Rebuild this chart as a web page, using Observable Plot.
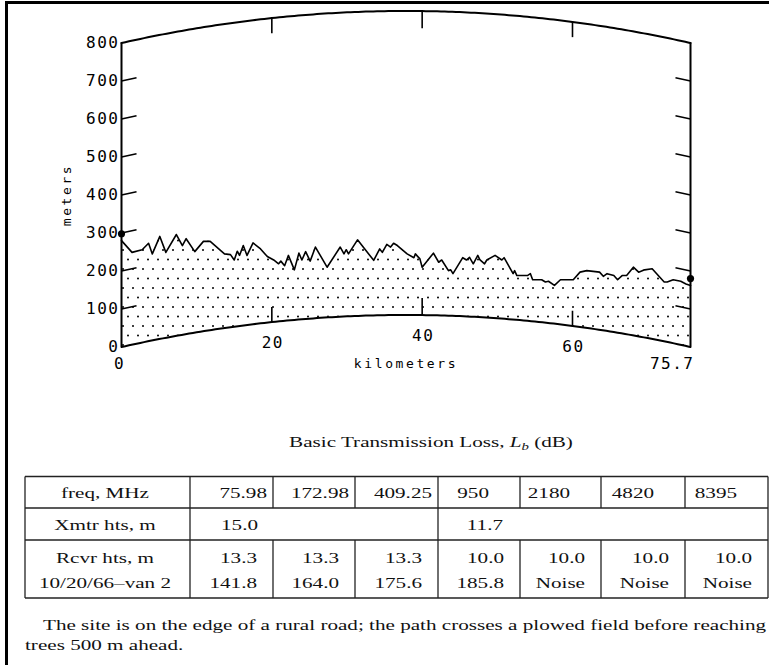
<!DOCTYPE html>
<html><head><meta charset="utf-8">
<script src="https://cdn.jsdelivr.net/npm/d3@7"></script>
<script src="https://cdn.jsdelivr.net/npm/@observablehq/plot@0.6"></script>
<style>
html,body{margin:0;padding:0;background:#fff;}
#page{position:relative;width:769px;height:665px;overflow:hidden;background:#fff;}
#chart{position:absolute;left:0;top:0;}
#lower{position:absolute;left:0;top:400px;}
.frameTop{position:absolute;left:5px;top:1px;width:764px;height:3px;background:#000;}
.frameLeft{position:absolute;left:5px;top:1px;width:3px;height:664px;background:#000;}
</style></head>
<body>
<div id="page">
  <div id="chart"></div>
  <svg id="lower" width="769" height="265"></svg>
  <div class="frameTop"></div><div class="frameLeft"></div>
</div>
<script>
// ---- terrain profile (heights as drawn on the curved-earth frame, m) ----
const distanceKm = [0, 1.4, 2.75, 3.6, 4.1, 5.1, 5.9, 7.3, 8.1, 8.6, 9.75, 10.9, 11.8, 13.7, 14.5, 15.0, 15.4, 15.7, 16.2, 16.7,
  17.5, 18.5, 19.4, 20.25, 20.9, 21.2, 21.7, 22.2, 23.0, 23.6, 24.0, 24.5, 25.1, 25.8, 27.35, 29.1, 29.6, 29.9, 30.2, 31.4,
  33.55, 34.35, 34.7, 35.3, 35.8, 36.2, 36.7, 38.0, 38.9, 39.1, 39.7, 40.0, 41.5, 42.2, 42.6, 43.5, 43.8, 44.1, 45.4, 45.9,
  46.3, 46.8, 47.4, 47.7, 48.3, 48.6, 49.7, 50.6, 50.9, 52.1, 52.3, 52.6, 54.0, 54.4, 54.7, 55.9, 56.4, 56.8, 57.6, 58.4,
  60.1, 61.0, 61.9, 63.6, 64.1, 64.6, 65.5, 66.0, 66.6, 67.2, 68.1, 68.8, 69.6, 70.6, 71.5, 72.2, 72.6, 73.4, 74.4, 75.1, 75.7];
const profileM = [280, 249, 256, 273, 245, 291, 249, 296, 267, 285, 251, 278, 278, 245, 243, 229, 252, 241, 267, 241,
  274, 258, 238, 229, 219, 226, 214, 241, 203, 247, 229, 251, 226, 263, 210, 263, 245, 256, 245, 282,
  228, 258, 249, 270, 263, 273, 267, 245, 235, 245, 232, 210, 247, 223, 229, 201, 203, 193, 235, 229,
  236, 219, 241, 229, 219, 229, 241, 229, 235, 193, 201, 188, 188, 193, 177, 177, 171, 173, 162, 177,
  177, 197, 201, 197, 186, 193, 188, 177, 188, 188, 210, 197, 203, 206, 186, 171, 171, 177, 173, 166, 162];
const terminalKm = [0, 75.7];
const terminalM = [298, 180];
const pathLengthKm = 75.7;
const yTickValues = [0, 100, 200, 300, 400, 500, 600, 700, 800];
const xTickValues = [20, 40, 60];
const xStartLabel = "0";
const xEndLabel = "75.7";

// ---- table ----
const rowLabels = ["freq, MHz", "Xmtr hts, m", "Rcvr hts, m", "10/20/66\u2013van 2"];
const freqMHz = ["75.98", "172.98", "409.25", "950", "2180", "4820", "8395"];
const xmtrHeights = ["15.0", "11.7"];
const rcvrHeights = ["13.3", "13.3", "13.3", "10.0", "10.0", "10.0", "10.0"];
const lossDb = ["141.8", "164.0", "175.6", "185.8", "Noise", "Noise", "Noise"];
const tableTitle = "Basic Transmission Loss, ";
const captionLines = ["The site is on the edge of a rural road; the path crosses a plowed field before reaching",
  "trees 500 m ahead."];

// curved (4/3 earth, a_e = 8500 km) frame: bulge in metres
const D = pathLengthKm;
const bulge = d => d * (D - d) / 17;

const profile = distanceKm.map((d, i) => ({d, h: profileM[i], base: bulge(d)}));
const arcPts = d3.range(0, D, 0.5).concat([D]).map(d => ({d, lo: bulge(d), hi: 800 + bulge(d)}));
const terminals = terminalKm.map((d, i) => ({d, h: terminalM[i]}));
const innerTicks = yTickValues.filter(v => v > 0 && v < 800);
const tickLen = {20: 40, 40: 45, 60: 40};

const mono = "'DejaVu Sans Mono', monospace";
const chart = Plot.plot({
  width: 769, height: 400,
  marginLeft: 121, marginRight: 79, marginTop: 42.5, marginBottom: 53.5,
  x: {domain: [0, D], axis: null},
  y: {domain: [0, 800], axis: null},
  style: {fontFamily: mono, background: "transparent", color: "#000"},
  marks: [
    Plot.areaY(profile, {x: "d", y1: "base", y2: "h", fill: "url(#stipple)"}),
    Plot.line(arcPts, {x: "d", y: "lo", stroke: "#000", strokeWidth: 2}),
    Plot.line(arcPts, {x: "d", y: "hi", stroke: "#000", strokeWidth: 2}),
    Plot.ruleX([0, D], {x: d => d, y1: () => 0, y2: () => 800, stroke: "#000", strokeWidth: 2}),
    Plot.link(innerTicks, {x1: () => 0, y1: v => v, x2: () => 2, y2: v => v + bulge(2), stroke: "#000", strokeWidth: 1.6}),
    Plot.link(innerTicks, {x1: () => D, y1: v => v, x2: () => D - 2, y2: v => v + bulge(D - 2), stroke: "#000", strokeWidth: 1.6}),
    Plot.link(xTickValues, {x1: v => v, x2: v => v, y1: v => bulge(v), y2: v => bulge(v) + tickLen[v], stroke: "#000", strokeWidth: 1.6}),
    Plot.link(xTickValues, {x1: v => v, x2: v => v, y1: v => 800 + bulge(v), y2: v => 800 + bulge(v) - tickLen[v], stroke: "#000", strokeWidth: 1.6}),
    Plot.line(profile, {x: "d", y: "h", stroke: "#000", strokeWidth: 1.6}),
    Plot.dot(terminals, {x: "d", y: "h", r: 3.6, fill: "#000"}),
    Plot.text(yTickValues, {x: () => 0, y: v => v, text: v => String(v), textAnchor: "end", dx: -2, fontSize: 16}),
    Plot.text(xTickValues, {x: v => v, y: v => bulge(v), text: v => String(v), dy: 21, dx: 1, fontSize: 16}),
    Plot.text([xStartLabel], {x: () => 0, y: () => 0, text: t => t, dy: 17, dx: -2, fontSize: 16}),
    Plot.text([xEndLabel], {x: () => D, y: () => 0, text: t => t, dy: 17, dx: 4, textAnchor: "end", fontSize: 16}),
    Plot.text(["meters"], {frameAnchor: "left", y: () => 400, dx: -55, rotate: -90, textAnchor: "middle", text: t => t, fontSize: 13}),
    Plot.text(["kilometers"], {x: () => D / 2, y: () => 0, dy: 17, text: t => t, fontSize: 13})
  ]
});
document.getElementById("chart").appendChild(chart);
const cs = d3.select(chart);
cs.selectAll("text").each(function() {
  const s = this.textContent;
  d3.select(this).style("letter-spacing", (s === "meters" || s === "kilometers") ? "2.6px" : "1.5px");
});
// stipple pattern
const defs = cs.insert("defs", ":first-child");
const pat = defs.append("pattern").attr("id", "stipple").attr("patternUnits", "userSpaceOnUse")
  .attr("width", 10).attr("height", 19);
pat.append("circle").attr("cx", 3).attr("cy", 3).attr("r", 1).attr("fill", "#000");
pat.append("circle").attr("cx", 8).attr("cy", 12.5).attr("r", 1).attr("fill", "#000");

// ---- lower block: title, table, caption ----
const serif = "'Liberation Serif', 'DejaVu Serif', serif";
const fs = 15.5;
const ctx = document.createElement("canvas").getContext("2d");
ctx.font = fs + "px 'Liberation Serif'";
const k = 724 / ctx.measureText(captionLines[0]).width;
const lower = d3.select("#lower");
const off = 400;
function txt(x, y, s, anchor) {
  return lower.append("text")
    .attr("transform", `translate(${x},${y - off}) scale(${k},1)`)
    .attr("text-anchor", anchor || "start")
    .attr("font-family", serif).attr("font-size", fs).attr("fill", "#111")
    .text(s);
}
// title
const t = txt(431, 447, tableTitle, "middle");
t.append("tspan").attr("font-style", "italic").text("L");
t.append("tspan").attr("font-size", fs * 0.7).attr("font-style", "italic").attr("dy", 3).text("b");
t.append("tspan").attr("dy", -3).text(" (dB)");

// table grid
const colEdges = [25, 190, 273, 355, 438, 520, 601, 685, 768];
const rowEdges = [476.5, 508, 540, 598];
const line = (x1, y1, x2, y2) => lower.append("line").attr("x1", x1).attr("y1", y1 - off).attr("x2", x2).attr("y2", y2 - off)
  .attr("stroke", "#222").attr("stroke-width", 1.3);
rowEdges.forEach(y => line(25, y, 768, y));
colEdges.forEach((x, i) => {
  if (i === 0 || i === 1 || i === 4 || i === 8) line(x, rowEdges[0], x, rowEdges[3]);
  else { line(x, rowEdges[0], x, rowEdges[1]); line(x, rowEdges[2], x, rowEdges[3]); }
});
[498, 530, 563, 588].forEach((y, i) => txt(105, y, rowLabels[i], "middle"));
freqMHz.forEach((v, i) => txt(colEdges[i + 2] - (i < 3 ? 6 : 31), 498, v, "end"));
txt(258, 530, xmtrHeights[0], "end");
txt(503, 530, xmtrHeights[1], "end");
rcvrHeights.forEach((v, i) => txt(colEdges[i + 2] - 16, 563, v, "end"));
lossDb.forEach((v, i) => txt(colEdges[i + 2] - 16, 588, v, "end"));
// caption
txt(43, 630, captionLines[0], "start");
txt(25, 650, captionLines[1], "start");
</script>
</body></html>
